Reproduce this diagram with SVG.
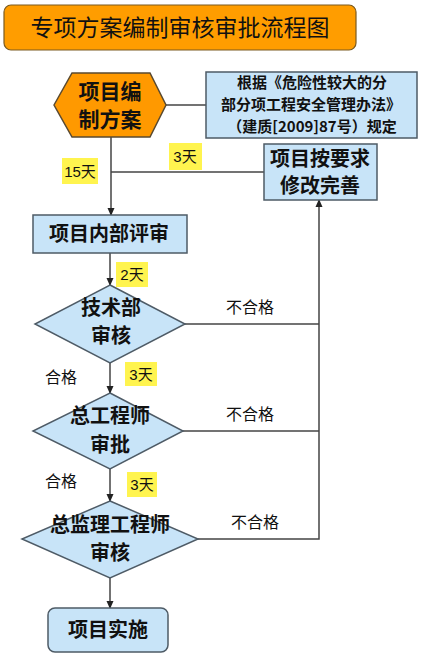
<svg xmlns="http://www.w3.org/2000/svg" width="421" height="655" viewBox="0 0 421 655">
<defs>
<marker id="arr" markerWidth="8" markerHeight="8" refX="7" refY="4" orient="auto" markerUnits="userSpaceOnUse">
<path d="M0,0.5 L8,4 L0,7.5 Z" fill="#222"/>
</marker>
</defs>
<style>
text{font-family:"Noto Sans CJK SC","Liberation Sans",sans-serif;fill:#111;text-anchor:middle}
.node{fill:#C8E4F8;stroke:#4E5B66;stroke-width:1.5}
.t{font-size:20px;font-weight:bold}
.lbl{font-size:16px}
.day{fill:#FFF44F}
.dt{font-family:"Liberation Sans","Noto Sans CJK SC",sans-serif;font-size:15px}
.c{fill:none;stroke:#444;stroke-width:1.5}
.r{font-size:15px;font-weight:bold}
</style>
<rect width="421" height="655" fill="#fff"/>
<g id="title">
<rect x="4" y="5" width="352" height="45" rx="7" fill="#FF9D00" stroke="#7A5A20" stroke-width="1.2"/>
<text x="180" y="36" style="font-size:23px">专项方案编制审核审批流程图</text>
</g>
<g id="connectors">
<line class="c" x1="166" y1="105" x2="206" y2="105"/>
<line class="c" x1="111" y1="137" x2="111" y2="215" marker-end="url(#arr)"/>
<line class="c" x1="264" y1="172" x2="111" y2="172"/>
<line class="c" x1="110" y1="253" x2="110" y2="285" marker-end="url(#arr)"/>
<line class="c" x1="110" y1="363" x2="110" y2="393" marker-end="url(#arr)"/>
<line class="c" x1="110" y1="469" x2="110" y2="501" marker-end="url(#arr)"/>
<line class="c" x1="110" y1="578" x2="110" y2="608" marker-end="url(#arr)"/>
<line class="c" x1="185" y1="324" x2="319" y2="324"/>
<line class="c" x1="183" y1="431" x2="319" y2="431"/>
<polyline class="c" points="198,539 319,539 319,200" marker-end="url(#arr)"/>
<text class="lbl" x="250" y="313">不合格</text>
<text class="lbl" x="250" y="420">不合格</text>
<text class="lbl" x="255" y="528">不合格</text>
<text class="lbl" x="61" y="383">合格</text>
<text class="lbl" x="61" y="487">合格</text>
<rect class="day" x="62" y="158" width="36" height="26"/>
<text class="dt" x="80" y="177">15天</text>
<rect class="day" x="169" y="143" width="33" height="27"/>
<text class="dt" x="185" y="162">3天</text>
<rect class="day" x="116" y="262" width="32" height="25"/>
<text class="dt" x="132" y="280">2天</text>
<rect class="day" x="125" y="362" width="32" height="24"/>
<text class="dt" x="141" y="380">3天</text>
<rect class="day" x="127" y="472" width="30" height="25"/>
<text class="dt" x="142" y="490">3天</text>
</g>
<g id="n_plan">
<polygon points="54,105 72,73 150,73 166,105 150,137 72,137" fill="#FF9900" stroke="#5A4A30" stroke-width="1.5"/>
<text class="t" x="110" y="99" style="font-size:21px">项目编</text>
<text class="t" x="110" y="127" style="font-size:21px">制方案</text>
</g>
<g id="n_rule">
<rect class="node" x="206" y="72" width="211" height="66"/>
<text class="r" x="312" y="88">根据《危险性较大的分</text>
<text class="r" x="311" y="110">部分项工程安全管理办法》</text>
<text class="r" x="312" y="132">（建质[2009]87号）规定</text>
</g>
<g id="n_modify">
<rect class="node" x="264" y="144" width="113" height="56"/>
<text class="t" x="320" y="166">项目按要求</text>
<text class="t" x="320" y="193">修改完善</text>
</g>
<g id="n_internal">
<rect class="node" x="33" y="215" width="154" height="38"/>
<text class="t" x="109" y="241">项目内部评审</text>
</g>
<g id="n_tech">
<polygon class="node" points="110,285 185,324 110,363 35,324"/>
<text class="t" x="111" y="315">技术部</text>
<text class="t" x="111" y="343">审核</text>
</g>
<g id="n_chief">
<polygon class="node" points="110,393 183,431 110,469 33,431"/>
<text class="t" x="110" y="423">总工程师</text>
<text class="t" x="110" y="452">审批</text>
</g>
<g id="n_super">
<polygon class="node" points="110,501 198,539 110,578 22,539"/>
<text class="t" x="110" y="532">总监理工程师</text>
<text class="t" x="110" y="560">审核</text>
</g>
<g id="n_impl">
<rect class="node" x="48" y="608" width="120" height="44" rx="7"/>
<text class="t" x="108" y="637">项目实施</text>
</g>
</svg>
